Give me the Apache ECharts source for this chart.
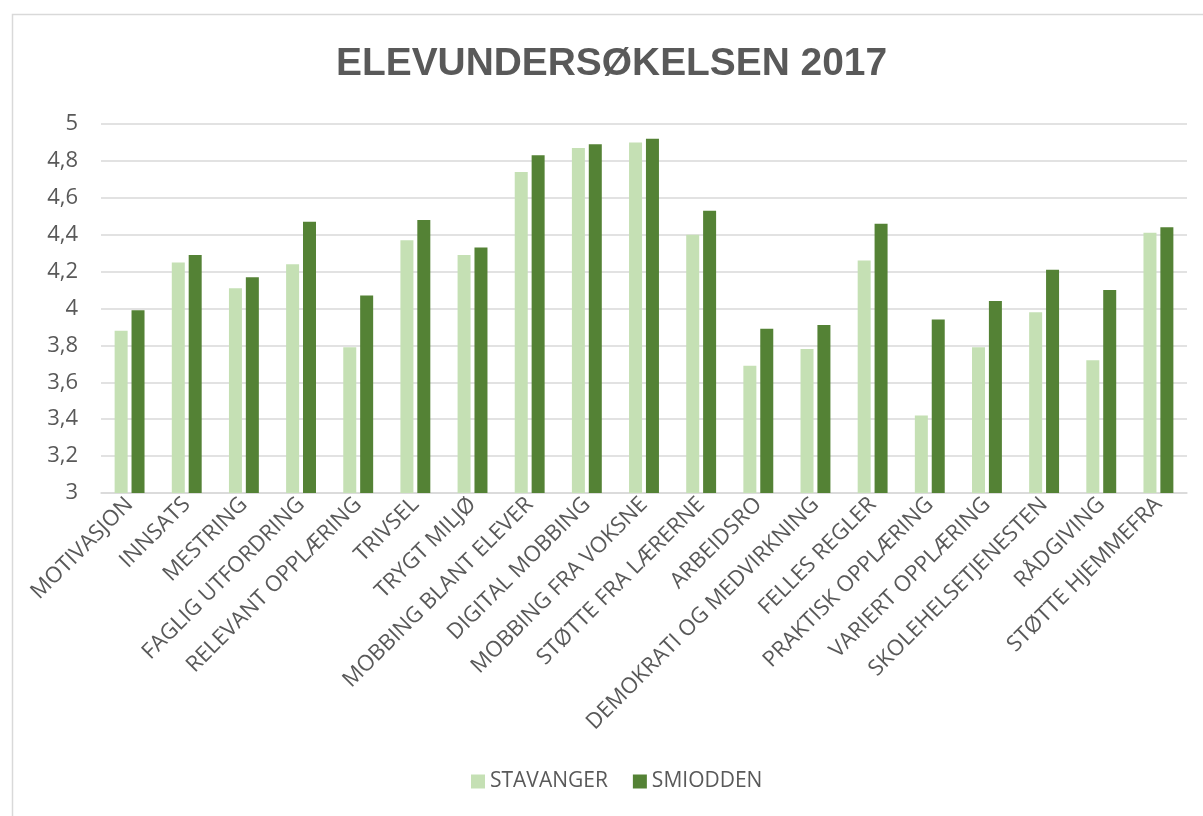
<!DOCTYPE html>
<html>
<head>
<meta charset="utf-8">
<script src="https://cdn.jsdelivr.net/npm/echarts@6/dist/echarts.min.js"></script>
<style>
  html, body { margin: 0; padding: 0; background: #fff; }
  #chart { width: 1203px; height: 816px; }
</style>
</head>
<body>
<div id="chart"></div>
<script>
var categories = ['MOTIVASJON', 'INNSATS', 'MESTRING', 'FAGLIG UTFORDRING', 'RELEVANT OPPLÆRING',
    'TRIVSEL', 'TRYGT MILJØ', 'MOBBING BLANT ELEVER', 'DIGITAL MOBBING', 'MOBBING FRA VOKSNE',
    'STØTTE FRA LÆRERNE', 'ARBEIDSRO', 'DEMOKRATI OG MEDVIRKNING', 'FELLES REGLER',
    'PRAKTISK OPPLÆRING', 'VARIERT OPPLÆRING', 'SKOLEHELSETJENESTEN', 'RÅDGIVING', 'STØTTE HJEMMEFRA'];
var stavanger = [3.88, 4.25, 4.11, 4.24, 3.79, 4.37, 4.29, 4.74, 4.87, 4.90, 4.40, 3.69, 3.78, 4.26, 3.42, 3.79, 3.98, 3.72, 4.41];
var smiodden = [3.99, 4.29, 4.17, 4.47, 4.07, 4.48, 4.33, 4.83, 4.89, 4.92, 4.53, 3.89, 3.91, 4.46, 3.94, 4.04, 4.21, 4.10, 4.44];

var chart = echarts.init(document.getElementById('chart'));
var txt = '#595959', font = '"Open Sans", "Noto Sans", sans-serif';

chart.setOption({
    animation: false,
    textStyle: { fontFamily: font },
    // ramme rundt diagrammet
    graphic: [{
        type: 'rect', left: 10, top: 12,
        shape: { width: 1220, height: 840 },
        style: { fill: 'none', stroke: '#D9D9D9', lineWidth: 1.5 }
    }],
    title: {
        text: 'ELEVUNDERSØKELSEN 2017',
        left: 336, top: 45,
        padding: 0,
        textStyle: { color: txt, fontSize: 38.9, fontWeight: 'bold', fontFamily: '"Liberation Sans", "Noto Sans", sans-serif' }
    },
    legend: {
        bottom: 19, left: 466,
        itemWidth: 14, itemHeight: 14, itemGap: 25,
        icon: 'rect',
        textStyle: { color: txt, fontSize: 21, fontFamily: font },
        data: ['STAVANGER', 'SMIODDEN']
    },
    grid: { left: 101, right: 16, top: 124, bottom: 323, containLabel: false },
    xAxis: {
        type: 'category',
        data: categories,
        axisLine: { lineStyle: { color: '#D9D9D9', width: 1.5 } },
        axisTick: { show: false },
        axisLabel: { rotate: 45, interval: 0, color: txt, fontSize: 22, margin: 8, fontFamily: font }
    },
    yAxis: {
        type: 'value',
        min: 3, max: 5, interval: 0.2,
        axisLine: { show: false },
        axisTick: { show: false },
        splitLine: { lineStyle: { color: '#D9D9D9', width: 1.5 } },
        axisLabel: {
            color: txt, fontSize: 22, margin: 23, fontFamily: font,
            formatter: function (v) { return String(Math.round(v * 10) / 10).replace('.', ','); }
        }
    },
    series: [
        { name: 'STAVANGER', type: 'bar', data: stavanger, barWidth: 13, barGap: '30%',
          itemStyle: { color: '#C5E0B4' } },
        { name: 'SMIODDEN', type: 'bar', data: smiodden, barWidth: 13,
          itemStyle: { color: '#548235' } }
    ]
});
</script>
</body>
</html>
